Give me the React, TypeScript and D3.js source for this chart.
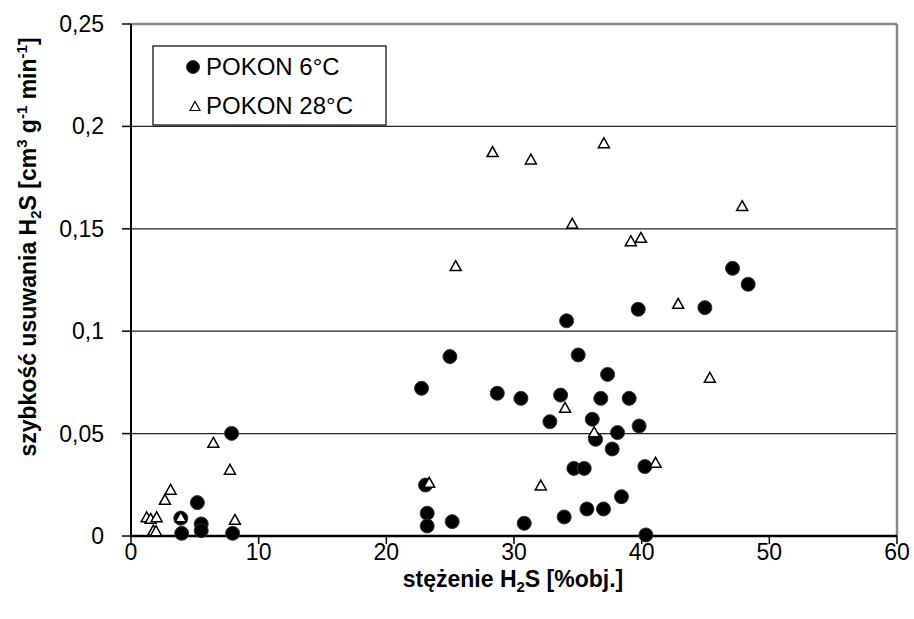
import React from "react";
import * as d3 from "d3";

const xTicks = [0, 10, 20, 30, 40, 50, 60];
const yTicks = [0, 0.05, 0.1, 0.15, 0.2, 0.25];
const yTickLabels = ["0", "0,05", "0,1", "0,15", "0,2", "0,25"];

const series1Name = "POKON 6°C";
const series1X = [3.97, 3.9, 5.2, 5.5, 5.5, 7.88, 7.96, 22.76, 24.98, 23.07, 23.2, 23.2, 25.16, 28.69, 30.54, 30.8, 32.81, 33.65, 33.93, 34.12, 34.69, 35.03, 35.5, 35.71, 36.13, 36.39, 36.8, 37.01, 37.33, 37.69, 38.11, 38.42, 39.02, 39.73, 39.8, 40.25, 40.33, 44.95, 47.12, 48.34];
const series1Y = [0.0013, 0.0087, 0.0163, 0.0059, 0.0026, 0.0501, 0.0013, 0.0721, 0.0876, 0.0249, 0.0111, 0.0049, 0.007, 0.0697, 0.0672, 0.0062, 0.0558, 0.0688, 0.0093, 0.1051, 0.033, 0.0884, 0.033, 0.0132, 0.057, 0.0472, 0.0672, 0.0132, 0.0789, 0.0425, 0.0505, 0.0192, 0.0672, 0.1107, 0.0537, 0.0339, 0.0005, 0.1115, 0.1307, 0.1229];

const series2Name = "POKON 28°C";
const series2X = [1.23, 1.54, 2.01, 1.75, 1.96, 2.66, 3.1, 3.9, 6.45, 7.75, 8.14, 23.36, 25.43, 28.32, 31.32, 32.1, 34.0, 34.56, 36.28, 37.04, 39.15, 39.94, 41.09, 42.86, 45.34, 47.87];
const series2Y = [0.0094, 0.0086, 0.0094, 0.0029, 0.0026, 0.0179, 0.0228, 0.0094, 0.0457, 0.0326, 0.0081, 0.0262, 0.132, 0.1877, 0.1841, 0.0249, 0.0628, 0.1527, 0.0509, 0.192, 0.1442, 0.1458, 0.036, 0.1136, 0.0775, 0.1613];

const W = 914;
const H = 619;
const L = 131, R = 897, T = 24, B = 536;

export default function App() {
  const x = d3.scaleLinear().domain([0, 60]).range([L, R]);
  const y = d3.scaleLinear().domain([0, 0.25]).range([B, T]);
  const tri = (cx: number, cy: number, s: number) => {
    const h = s * 0.9;
    return `M${cx},${cy - h / 2}L${cx + s / 2},${cy + h / 2}L${cx - s / 2},${cy + h / 2}Z`;
  };
  const font = "'Liberation Sans', Arial, sans-serif";
  return (
    <svg width={W} height={H} style={{ position: "absolute", left: 0, top: 0, background: "#fff" }} fontFamily={font}>
      {/* gridlines */}
      {yTicks.filter((t) => t > 0 && t < 0.25).map((t) => (
        <line key={t} x1={L} x2={R} y1={y(t)} y2={y(t)} stroke="#222" strokeWidth={1.2} />
      ))}
      {/* plot border top/right */}
      <line x1={L} x2={R} y1={T} y2={T} stroke="#888" strokeWidth={2.5} />
      <line x1={R} x2={R} y1={T} y2={B} stroke="#888" strokeWidth={2.5} />
      {/* axes */}
      <line x1={L} x2={L} y1={T} y2={B} stroke="#000" strokeWidth={2} />
      <line x1={L} x2={R} y1={B} y2={B} stroke="#000" strokeWidth={2.5} />
      {yTicks.map((t) => (
        <line key={"yt" + t} x1={L - 9} x2={L} y1={y(t)} y2={y(t)} stroke="#000" strokeWidth={1.5} />
      ))}
      {xTicks.map((t) => (
        <line key={"xt" + t} x1={x(t)} x2={x(t)} y1={B} y2={B + 8} stroke="#000" strokeWidth={1.5} />
      ))}
      {yTicks.map((t, i) => (
        <text key={"yl" + t} x={104} y={y(t)} dy="0.35em" textAnchor="end" fontSize={23}>
          {yTickLabels[i]}
        </text>
      ))}
      {xTicks.map((t) => (
        <text key={"xl" + t} x={x(t)} y={552} dy="0.35em" textAnchor="middle" fontSize={23}>
          {t}
        </text>
      ))}
      {/* titles */}
      <text x={513} y={579} dy="0.35em" textAnchor="middle" fontSize={23} fontWeight="bold">
        stężenie H<tspan fontSize={15} dy={5}>2</tspan><tspan dy={-5}>S [%obj.]</tspan>
      </text>
      <text transform="translate(28,247) rotate(-90)" textAnchor="middle" dy="0.35em" fontSize={23} fontWeight="bold">
        szybkość usuwania H<tspan fontSize={15} dy={5}>2</tspan><tspan dy={-5}>S [cm</tspan>
        <tspan fontSize={15} dy={-9}>3</tspan><tspan dy={9}> g</tspan>
        <tspan fontSize={15} dy={-9}>-1</tspan><tspan dy={9}> min</tspan>
        <tspan fontSize={15} dy={-9}>-1</tspan><tspan dy={9}>]</tspan>
      </text>
      {/* series 1 */}
      {series1X.map((v, i) => (
        <circle key={"c" + i} cx={x(v)} cy={y(series1Y[i])} r={7} fill="#000" stroke="#333" strokeWidth={1} />
      ))}
      {/* series 2 */}
      {series2X.map((v, i) => (
        <path key={"t" + i} d={tri(x(v), y(series2Y[i]), 11)} fill="#fff" stroke="#000" strokeWidth={1.5} />
      ))}
      {/* legend */}
      <rect x={153} y={46} width={233} height={79} fill="#fff" stroke="#000" strokeWidth={1.2} />
      <circle cx={193} cy={67} r={6.5} fill="#000" stroke="#333" strokeWidth={1} />
      <text x={206} y={67} dy="0.35em" fontSize={24}>{series1Name}</text>
      <path d={tri(195, 106, 10)} fill="#fff" stroke="#000" strokeWidth={1.2} />
      <text x={206} y={106} dy="0.35em" fontSize={24}>{series2Name}</text>
    </svg>
  );
}
